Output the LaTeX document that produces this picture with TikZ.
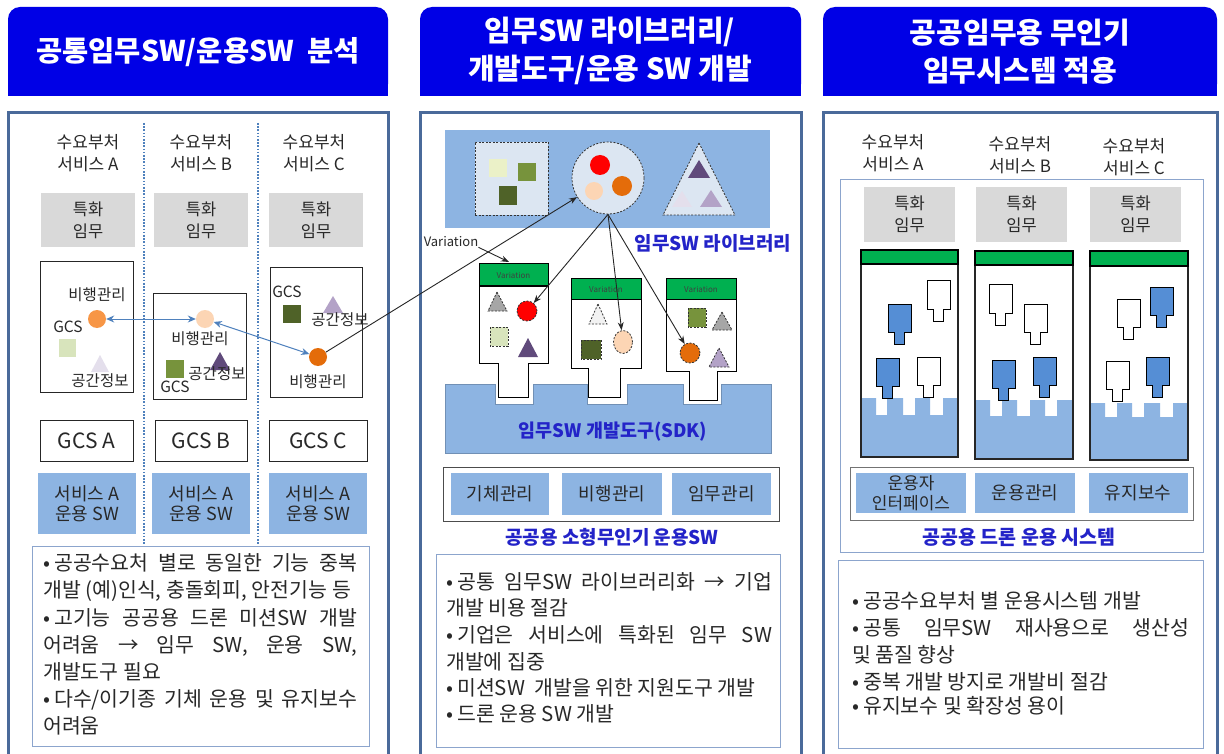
\documentclass[tikz,border=0pt]{standalone}
\usepackage{fontspec}
\setmainfont{Noto Sans CJK KR}
\usetikzlibrary{arrows.meta,shapes.geometric}
\definecolor{hdrblue}{RGB}{0,0,230}
\definecolor{panelb}{RGB}{74,106,154}
\definecolor{lblue}{RGB}{141,180,226}
\definecolor{paleblue}{RGB}{220,230,242}
\definecolor{txtblue}{RGB}{35,35,200}
\definecolor{ggray}{RGB}{217,217,217}
\definecolor{vgreen}{RGB}{0,176,80}
\definecolor{modblue}{RGB}{85,142,213}
\definecolor{boxline}{RGB}{140,165,205}
\definecolor{orA}{RGB}{247,150,70}
\definecolor{orC}{RGB}{228,108,10}
\definecolor{peach}{RGB}{252,213,180}
\definecolor{palegreen}{RGB}{216,228,188}
\definecolor{midgreen}{RGB}{119,147,60}
\definecolor{dkgreen}{RGB}{79,98,40}
\definecolor{dkpurple}{RGB}{96,74,123}
\definecolor{lavender}{RGB}{179,162,199}
\definecolor{palelav}{RGB}{228,223,236}
\definecolor{paleyel}{RGB}{235,241,200}
\definecolor{arrblue}{RGB}{79,129,189}
\definecolor{darktxt}{RGB}{40,40,40}
\definecolor{midgray}{RGB}{166,166,166}
\definecolor{ltgray}{RGB}{242,242,242}
\newcommand\bul{•\kern4pt}
\newcommand\plugmod[3]{\draw[black, line width=1, fill=#3] (#1,#2) -- ++(23,0) -- ++(0,28) -- ++(-6.5,0) -- ++(0,12) -- ++(-10,0) -- ++(0,-12) -- ++(-6.5,0) -- cycle;}
\begin{document}
\begin{tikzpicture}[x=1pt,y=-1pt,
  hdrtxt/.style={text=white, font={\fontsize{29}{38}\selectfont\bfseries}, align=center, inner sep=0},
  sm/.style={font={\fontsize{17}{22}\selectfont}, text=darktxt, align=center, inner sep=0},
  lab/.style={font={\fontsize{15.5}{17}\selectfont}, text=darktxt, inner sep=0},
  graybox/.style={sm, font={\fontsize{16.5}{22}\selectfont}, fill=ggray, minimum width=94pt, minimum height=54pt},
  bluebox/.style={fill=lblue, font={\fontsize{18}{20}\selectfont}, text=darktxt, align=center, inner sep=0, minimum width=98pt, minimum height=61pt},
  blkbox/.style={draw=black!85, line width=1, inner sep=0},
  gcsbox/.style={blkbox, font={\fontsize{21}{22}\selectfont}, text=darktxt, minimum height=41pt},
  bluetitle/.style={text=txtblue, font={\fontsize{19}{20}\selectfont\bfseries}, inner sep=0},
  body/.style={font={\fontsize{20.5}{22}\selectfont}, text=darktxt, anchor=base west, inner sep=0},
  karrow/.style={-{Stealth[length=8pt,width=6pt]}, line width=0.9, black!85},
  barrow/.style={{Stealth[length=8pt,width=7pt]}-{Stealth[length=8pt,width=7pt]}, arrblue, line width=1},
  dsh/.style={draw=black!80, dash pattern=on 2pt off 1.5pt, line width=0.8},
  dot/.style={circle, inner sep=0, minimum size=18pt},
  panel/.style={panelb, line width=3},
  tbox/.style={boxline, line width=1},
  vhead/.style={fill=vgreen, draw=black, line width=1, inner sep=0, font={\fontsize{8}{9}\selectfont}, text=black!75}
]
\useasboundingbox (0,0) rectangle (1224,754);
\fill[white] (0,0) rectangle (1224,754);

% ---------------- headers
\fill[hdrblue, rounded corners=12pt] (8,7) rectangle (388,96);
\fill[hdrblue] (8,50) rectangle (388,96);
\node[hdrtxt, font={\fontsize{28.5}{38}\selectfont\bfseries}] (h1) at (198,52) {공통임무SW/운용SW\ \ 분석};
\fill[hdrblue, rounded corners=12pt] (420,7) rectangle (801,96);
\fill[hdrblue] (420,50) rectangle (801,96);
\node[hdrtxt] (h2) at (610,51) {임무SW 라이브러리/\\개발도구/운용 SW 개발};
\fill[hdrblue, rounded corners=12pt] (823,7) rectangle (1217,96);
\fill[hdrblue] (823,50) rectangle (1217,96);
\node[hdrtxt] (h3) at (1020,51.5) {공공임무용 무인기\\임무시스템 적용};

% ---------------- panel frames
\draw[panel] (8,760) -- (8,113) -- (388,113) -- (388,760);
\draw[panel] (420,760) -- (420,113) -- (801,113) -- (801,760);
\draw[panel] (823,760) -- (823,113) -- (1217,113) -- (1217,760);

% ================= PANEL 1
\draw[arrblue, line width=1.6, dash pattern=on 1.6pt off 1.6pt] (144,123) -- (144,545);
\draw[arrblue, line width=1.6, dash pattern=on 1.6pt off 1.6pt] (258,123) -- (258,545);

\node[sm] (sa) at (88,153) {수요부처\\서비스 A};
\node[sm] (sb) at (201,153) {수요부처\\서비스 B};
\node[sm] (sc) at (314,153) {수요부처\\서비스 C};

\node[graybox] (ga) at (88,220) {특화\\임무};
\node[graybox] (gb) at (201,220) {특화\\임무};
\node[graybox] (gc) at (316,220) {특화\\임무};

\node[blkbox, minimum width=93pt, minimum height=130pt] (bxa) at (86.5,327) {};
\node[blkbox, minimum width=93pt, minimum height=106pt] (bxb) at (199.5,346) {};
\node[blkbox, minimum width=92pt, minimum height=129pt] (bxc) at (316,332.5) {};

% box A
\node[lab] (fla) at (97,295) {비행관리};
\node[dot, fill=orA] (fa) at (97,319) {};
\node[lab] (gcsa) at (68,327) {GCS};
\fill[palegreen] (59,339) rectangle (76,357);
\fill[palelav] (100,355) -- (109,372) -- (91,372) -- cycle;
\node[lab] (gia) at (100,381) {공간정보};
% box B
\node[dot, fill=peach] (fb) at (205,319) {};
\node[lab] (flb) at (200,339) {비행관리};
\fill[midgreen] (166,360) rectangle (184,378);
\fill[dkpurple] (220,352) -- (230,370) -- (210,370) -- cycle;
\node[lab] (gib) at (217,374) {공간정보};
\node[lab] (gcsb) at (175,387) {GCS};
% box C
\node[lab] (gcsc) at (287,292) {GCS};
\fill[dkgreen] (283,305) rectangle (301,323);
\fill[lavender] (333,296) -- (343,313) -- (323,313) -- cycle;
\node[lab] (gic) at (340,320) {공간정보};
\node[dot, fill=orC] (fc) at (318,357) {};
\node[lab] (flc) at (318,382) {비행관리};

\draw[barrow] (fa) -- (fb);
\draw[barrow] (fb) -- (fc);

\node[gcsbox, minimum width=93pt] (gca) at (86.5,440.5) {GCS A};
\node[gcsbox, minimum width=92pt] (gcb) at (201,440.5) {GCS B};
\node[gcsbox, minimum width=98pt] (gcc) at (318,440.5) {GCS C};

\node[bluebox] (opa) at (87,503.5) {서비스 A\\운용 SW};
\node[bluebox] (opb) at (201,503.5) {서비스 A\\운용 SW};
\node[bluebox] (opc) at (318,503.5) {서비스 A\\운용 SW};

\draw[tbox] (32,546) rectangle (369,746);
\node[body] (p1a) at (43,570) {\makebox[314pt][s]{\bul 공공수요처 별로 동일한 기능 중복}};
\node[body] (p1b) at (43,597) {개발 (예)인식, 충돌회피, 안전기능 등};
\node[body] (p1c) at (43,625) {\makebox[314pt][s]{\bul 고기능 공공용 드론 미션SW 개발}};
\node[body] (p1d) at (43,652) {\makebox[314pt][s]{어려움 → 임무 SW, 운용 SW,}};
\node[body] (p1e) at (43,679) {개발도구 필요};
\node[body] (p1f) at (43,706) {\makebox[314pt][s]{\bul 다수/이기종 기체 운용 및 유지보수}};
\node[body] (p1g) at (43,733) {어려움};

% ================= PANEL 2
\fill[lblue] (445,130) rectangle (770,228);
\node[dsh, fill=paleblue, minimum size=73pt, inner sep=0] (libsq) at (511.5,178.5) {};
\fill[paleyel] (489,159) rectangle (507,177);
\fill[midgreen] (518,163) rectangle (536,181);
\fill[dkgreen] (499,186) rectangle (517,205);
\node[dsh, circle, fill=paleblue, minimum size=72pt, inner sep=0] (libc) at (608,178) {};
\node[dot, fill=red, minimum size=20pt] (lr) at (600,165) {};
\node[dot, fill=orC, minimum size=20pt] (lo) at (622,186) {};
\node[dot, fill=peach] (lp) at (594,191) {};
\draw[dsh, fill=paleblue] (699,143) -- (735,215) -- (663,215) -- cycle;
\fill[dkpurple] (699,160) -- (710,178) -- (688,178) -- cycle;
\fill[palelav] (682,191) -- (692,207) -- (672,207) -- cycle;
\fill[lavender] (711,190) -- (722,207) -- (700,207) -- cycle;

\node[bluetitle] (libl) at (713,243) {임무SW 라이브러리};
\node[font={\fontsize{13}{14}\selectfont}, text=darktxt, inner sep=0] (varl) at (451,242) {Variation};
\coordinate (varend) at (509,262);

% SDK band
\filldraw[fill=lblue, draw=lblue!80!black, line width=0.6] (445,384) -- (495,384) -- (495,404) -- (533,404) -- (533,384) -- (587,384) -- (587,404) -- (627,404) -- (627,384) -- (683,384) -- (683,404) -- (721,404) -- (721,384) -- (771,384) -- (771,453) -- (445,453) -- cycle;
\node[bluetitle, font={\fontsize{18.5}{20}\selectfont\bfseries}] (sdk) at (613,432) {임무SW 개발도구(SDK)};

% modules
\draw[black, line width=1, fill=white] (479,264) -- (548,264) -- (548,363) -- (528,363) -- (528,397) -- (498,397) -- (498,363) -- (479,363) -- cycle;
\node[vhead, minimum width=69pt, minimum height=22pt] (m1h) at (513.5,275) {Variation};
\draw[black, line width=1, fill=white] (571,279) -- (641,279) -- (641,368) -- (620,368) -- (620,397) -- (588,397) -- (588,368) -- (571,368) -- cycle;
\node[vhead, minimum width=70pt, minimum height=20pt] (m2h) at (606,289) {Variation};
\draw[black, line width=1, fill=white] (666,279) -- (736,279) -- (736,371) -- (717,371) -- (717,400) -- (689,400) -- (689,371) -- (666,371) -- cycle;
\node[vhead, minimum width=70pt, minimum height=20pt] (m3h) at (701,289) {Variation};

% module 1 items
\draw[dsh, fill=midgray] (497,292) -- (507,311) -- (488,311) -- cycle;
\node[dot, dsh, fill=red, minimum size=20pt] (m1c) at (527,311) {};
\draw[dsh, fill=palegreen] (490,327) rectangle (508,346);
\fill[dkpurple] (528,338) -- (538,357) -- (518,357) -- cycle;
% module 2 items
\draw[dsh, fill=ltgray] (598,304) -- (607,324) -- (589,324) -- cycle;
\draw[dsh, fill=dkgreen] (581,340) rectangle (601,359);
\node[dsh, ellipse, fill=peach, inner sep=0, minimum width=19pt, minimum height=23pt] (m2c) at (623,342) {};
% module 3 items
\draw[dsh, fill=midgreen] (688,308) rectangle (706,327);
\draw[dsh, fill=midgray] (722,312) -- (732,330) -- (712,330) -- cycle;
\node[dot, dsh, fill=orC, minimum size=20pt] (m3c) at (690,353) {};
\draw[dsh, fill=lavender] (719,348) -- (729,367) -- (709,367) -- cycle;

\draw[karrow] (varl.south east) -- (varend);
\draw[karrow] (libc.south) -- (m1c);
\draw[karrow] (libc.south) -- (m2c);
\draw[karrow] (libc.south) -- (m3c);
\draw[karrow] (fc) -- (libc);

% operational SW row
\draw[black!70, line width=0.8] (443,467) rectangle (779,521);
\node[bluebox, minimum width=98pt, minimum height=42pt] (o1) at (500,494) {기체관리};
\node[bluebox, minimum width=100pt, minimum height=42pt] (o2) at (612,494) {비행관리};
\node[bluebox, minimum width=99pt, minimum height=42pt] (o3) at (721.5,494) {임무관리};
\node[bluetitle] (osw) at (612,537) {공공용 소형무인기 운용SW};

\draw[tbox] (436,554) rectangle (780,747);
\node[body] (p2a) at (446,589) {\makebox[326pt][s]{\bul 공통 임무SW 라이브러리화 → 기업}};
\node[body] (p2b) at (446,615) {개발 비용 절감};
\node[body] (p2c) at (446,642) {\makebox[326pt][s]{\bul 기업은 서비스에 특화된 임무 SW}};
\node[body] (p2d) at (446,669) {개발에 집중};
\node[body] (p2e) at (446,695) {\bul 미션SW\ \ 개발을 위한 지원도구 개발};
\node[body] (p2f) at (446,721) {\bul 드론 운용 SW 개발};

% ================= PANEL 3
\node[sm] (ra) at (893,153) {수요부처\\서비스 A};
\node[sm] (rb) at (1020,155) {수요부처\\서비스 B};
\node[sm] (rc) at (1134,157) {수요부처\\서비스 C};

\draw[tbox] (840,180) rectangle (1203,552);
\node[graybox, minimum width=91pt, minimum height=55pt] (rga) at (909.5,214.5) {특화\\임무};
\node[graybox, minimum width=91pt, minimum height=55pt] (rgb) at (1021.5,214.5) {특화\\임무};
\node[graybox, minimum width=91pt, minimum height=55pt] (rgc) at (1135.5,214.5) {특화\\임무};

% bases
\fill[lblue] (861,398) -- (876,398) -- (876,415) -- (887,415) -- (887,398) -- (903,398) -- (903,415) -- (915,415) -- (915,398) -- (930,398) -- (930,415) -- (943,415) -- (943,398) -- (958,398) -- (958,457) -- (861,457) -- cycle;
\fill[lblue] (975,400) -- (990,400) -- (990,416) -- (1002,416) -- (1002,400) -- (1017,400) -- (1017,416) -- (1030,416) -- (1030,400) -- (1045,400) -- (1045,416) -- (1057,416) -- (1057,400) -- (1073,400) -- (1073,459) -- (975,459) -- cycle;
\fill[lblue] (1090,403) -- (1105,403) -- (1105,417) -- (1117,417) -- (1117,403) -- (1132,403) -- (1132,417) -- (1144,417) -- (1144,403) -- (1160,403) -- (1160,417) -- (1173,417) -- (1173,403) -- (1188,403) -- (1188,460) -- (1090,460) -- cycle;
% tall boxes
\node[blkbox, line width=1.3, minimum width=97pt, minimum height=207pt] (tba) at (909.5,353.5) {};
\node[blkbox, line width=1.3, minimum width=98pt, minimum height=208pt] (tbb) at (1024,355) {};
\node[blkbox, line width=1.3, minimum width=98pt, minimum height=209pt] (tbc) at (1139,355.5) {};
\node[vhead, line width=1.3, minimum width=97pt, minimum height=14pt] (gha) at (909.5,257) {};
\node[vhead, line width=1.3, minimum width=98pt, minimum height=14pt] (ghb) at (1024,258) {};
\node[vhead, line width=1.3, minimum width=98pt, minimum height=15pt] (ghc) at (1139,258.5) {};

\plugmod{888}{304}{modblue}
\plugmod{927}{281}{white}
\plugmod{876}{358}{modblue}
\plugmod{917}{357}{white}
\plugmod{989}{285}{white}
\plugmod{1024}{304}{white}
\plugmod{992}{360}{modblue}
\plugmod{1033}{357}{modblue}
\plugmod{1117}{299}{white}
\plugmod{1150}{287}{modblue}
\plugmod{1106}{361}{white}
\plugmod{1146}{357}{modblue}

\draw[black!55, line width=0.8] (850,467) rectangle (1193,520);
\node[bluebox, font={\fontsize{17}{20}\selectfont}, minimum width=110pt, minimum height=40pt] (u1) at (911,493) {운용자\\인터페이스};
\node[bluebox, minimum width=100pt, minimum height=40pt] (u2) at (1025,493) {운용관리};
\node[bluebox, minimum width=99pt, minimum height=40pt] (u3) at (1138,493) {유지보수};
\node[bluetitle, font={\fontsize{19.5}{20}\selectfont\bfseries}] (dsys) at (1019,537) {공공용 드론 운용 시스템};

\draw[tbox] (838,560) rectangle (1203,748);
\node[body] (p3a) at (852,608) {\bul 공공수요부처 별 운용시스템 개발};
\node[body] (p3b) at (852,635) {\makebox[337pt][s]{\bul 공통 임무SW 재사용으로 생산성}};
\node[body] (p3c) at (852,662) {및 품질 향상};
\node[body] (p3d) at (852,689) {\bul 중복 개발 방지로 개발비 절감};
\node[body] (p3e) at (852,713) {\bul 유지보수 및 확장성 용이};
\end{tikzpicture}
\end{document}
